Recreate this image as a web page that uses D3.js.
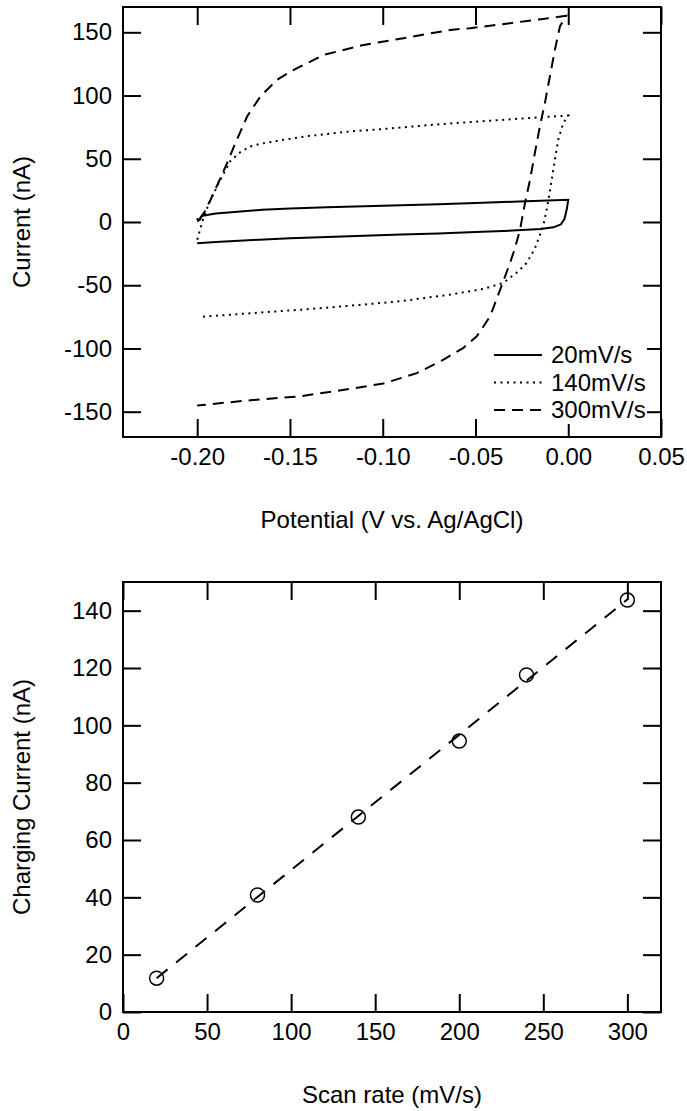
<!DOCTYPE html>
<html>
<head>
<meta charset="utf-8">
<script src="https://cdn.jsdelivr.net/npm/d3@7/dist/d3.min.js"></script>
<style>
  body { margin: 0; background: #fff; }
  svg text { font-family: "Liberation Sans", Arial, sans-serif; fill: #000; }
</style>
</head>
<body>
<div id="chart"></div>
<script>
// ---- data ----

// top panel: cyclic voltammograms, potential (V) vs current (nA)
const cvNames = ["20mV/s", "140mV/s", "300mV/s"];

const cv20x = [-0.2000, -0.1995, -0.1985, -0.1975, -0.1960, -0.1940, -0.1900, -0.1800, -0.1650, -0.1500, -0.1300, -0.1100, -0.0900, -0.0700, -0.0500, -0.0300, -0.0150, 0.0000,
               -0.0008, -0.0020, -0.0040, -0.0080, -0.0150, -0.0300, -0.0500, -0.0700, -0.0900, -0.1100, -0.1300, -0.1500, -0.1700, -0.1900, -0.2000];
const cv20y = [3.0, 1.0, 2.0, 5.0, 5.2, 5.8, 6.8, 8.0, 9.6, 10.6, 11.6, 12.4, 13.2, 14.1, 15.0, 16.0, 16.8, 17.5,
               10.0, 2.5, -2.0, -4.2, -5.5, -6.8, -8.0, -9.0, -9.8, -10.8, -11.8, -12.8, -14.2, -15.8, -16.8];

const cv140x = [-0.2000, -0.1964, -0.1928, -0.1875, -0.1820, -0.1767, -0.1713, -0.1660, -0.1534, -0.1400, -0.1175, -0.1000, -0.0800, -0.0600, -0.0400, -0.0220, 0.0000,
                -0.0027, -0.0054, -0.0072, -0.0095, -0.0113, -0.0135, -0.0180, -0.0224, -0.0269, -0.0350, -0.0457, -0.0636, -0.0906, -0.1200, -0.1440, -0.1700, -0.1980];
const cv140y = [-14.0, 4.4, 17.6, 33.4, 48.5, 55.3, 59.7, 61.8, 65.0, 68.0, 71.6, 73.5, 76.0, 78.3, 80.3, 82.1, 84.2,
                78.2, 65.0, 49.2, 28.0, 12.3, -3.5, -21.0, -32.4, -39.0, -48.2, -52.9, -57.4, -62.7, -66.5, -69.3, -72.0, -75.0];

const cv300x = [-0.1990, -0.1960, -0.1928, -0.1880, -0.1839, -0.1794, -0.1731, -0.1660, -0.1570, -0.1480, -0.1319, -0.1103, -0.0888, -0.0636, -0.0529, -0.0314, -0.0135, -0.0012,
                -0.0045, -0.0072, -0.0099, -0.0126, -0.0153, -0.0180, -0.0206, -0.0233, -0.0260, -0.0290, -0.0314, -0.0367, -0.0421, -0.0493, -0.0565, -0.0672, -0.0816, -0.0996, -0.1175, -0.1444, -0.1713, -0.2000];
const cv300y = [1.8, 8.0, 17.6, 33.0, 46.6, 62.4, 83.4, 99.2, 112.4, 120.3, 132.1, 140.0, 145.3, 151.9, 153.2, 157.2, 160.6, 163.0,
                154.5, 136.1, 115.0, 94.0, 75.5, 54.5, 33.4, 15.0, -6.1, -22.0, -32.4, -53.5, -74.6, -90.4, -99.5, -108.8, -119.5, -127.7, -131.9, -137.8, -140.9, -145.1];

const cvXTicks = [-0.20, -0.15, -0.10, -0.05, 0.00, 0.05];
const cvXTickLabels = ["-0.20", "-0.15", "-0.10", "-0.05", "0.00", "0.05"];
const cvYTicks = [-150, -100, -50, 0, 50, 100, 150];
const cvYTickLabels = ["-150", "-100", "-50", "0", "50", "100", "150"];

// bottom panel: charging current vs scan rate
const scanRates = [20, 80, 140, 200, 240, 300];
const chargingCurrent = [11.8, 40.8, 68.0, 94.5, 117.6, 143.7];
const fitRates = [20, 300];
const fitCurrent = [11.8, 143.9];

const rateTicks = [0, 50, 100, 150, 200, 250, 300];
const rateTickLabels = ["0", "50", "100", "150", "200", "250", "300"];
const currentTicks = [0, 20, 40, 60, 80, 100, 120, 140];
const currentTickLabels = ["0", "20", "40", "60", "80", "100", "120", "140"];


// ---- drawing ----
const width = 687, height = 1111;
const fontSize = 24;
const tickLen = 18;

const svg = d3.select("#chart")
    .append("svg")
    .attr("width", width)
    .attr("height", height);

// draws the box, inward ticks on all four sides, and labels
function drawFrame(x, y, xTicks, xLabels, yTicks, yLabels, xTitle, yTitle) {
    const [x0, x1] = x.range();
    const [y0, y1] = y.range();   // y0 = bottom, y1 = top
    const g = svg.append("g");

    const styleAxis = sel => {
        sel.select(".domain").remove();
        sel.selectAll(".tick line").attr("stroke", "#000").attr("stroke-width", 2);
        sel.selectAll(".tick text").style("font-size", fontSize + "px").attr("fill", "#000");
    };

    g.append("g")
        .attr("transform", `translate(0,${y0})`)
        .call(d3.axisBottom(x).tickValues(xTicks).tickFormat((d, i) => xLabels[i]).tickSize(-tickLen).tickPadding(11))
        .call(styleAxis);
    g.append("g")
        .attr("transform", `translate(0,${y1})`)
        .call(d3.axisTop(x).tickValues(xTicks).tickFormat("").tickSize(-tickLen))
        .call(styleAxis);
    g.append("g")
        .attr("transform", `translate(${x0},0)`)
        .call(d3.axisLeft(y).tickValues(yTicks).tickFormat((d, i) => yLabels[i]).tickSize(-tickLen).tickPadding(11))
        .call(styleAxis);
    g.append("g")
        .attr("transform", `translate(${x1},0)`)
        .call(d3.axisRight(y).tickValues(yTicks).tickFormat("").tickSize(-tickLen))
        .call(styleAxis);

    g.append("rect")
        .attr("x", x0).attr("y", y1)
        .attr("width", x1 - x0).attr("height", y0 - y1)
        .attr("fill", "none").attr("stroke", "#000").attr("stroke-width", 2);

    g.append("text")
        .attr("x", (x0 + x1) / 2)
        .attr("y", y0 + 83)
        .attr("dy", "0.35em")
        .attr("text-anchor", "middle")
        .style("font-size", fontSize + "px")
        .text(xTitle);

    g.append("text")
        .attr("transform", `translate(22,${(y0 + y1) / 2}) rotate(-90)`)
        .attr("text-anchor", "middle")
        .attr("dy", "0.35em")
        .style("font-size", fontSize + "px")
        .text(yTitle);
    return g;
}

// ---- top panel ----
const xCv = d3.scaleLinear().domain([-0.24, 0.05]).range([123, 661]);
const yCv = d3.scaleLinear().domain([-170, 170]).range([437, 7]);

const cvStyles = [
    { dash: null },
    { dash: "2,4.5" },
    { dash: "11,7" }
];
const cvData = [
    d3.zip(cv20x, cv20y),
    d3.zip(cv140x, cv140y),
    d3.zip(cv300x, cv300y)
];

const cvLine = d3.line().x(d => xCv(d[0])).y(d => yCv(d[1]));

svg.append("g")
    .selectAll("path")
    .data(cvData)
    .join("path")
    .attr("d", cvLine)
    .attr("fill", "none")
    .attr("stroke", "#000")
    .attr("stroke-width", 2)
    .attr("stroke-dasharray", (d, i) => cvStyles[i].dash);

drawFrame(xCv, yCv, cvXTicks, cvXTickLabels, cvYTicks, cvYTickLabels,
    "Potential (V vs. Ag/AgCl)", "Current (nA)");

// legend with white background
const legend = svg.append("g");
legend.append("rect")
    .attr("x", 488).attr("y", 341)
    .attr("width", 159).attr("height", 83)
    .attr("fill", "#fff");
cvNames.forEach((name, i) => {
    const ly = 355 + i * 27.5;
    legend.append("line")
        .attr("x1", 494).attr("x2", 542)
        .attr("y1", ly).attr("y2", ly)
        .attr("stroke", "#000").attr("stroke-width", 2)
        .attr("stroke-dasharray", cvStyles[i].dash);
    legend.append("text")
        .attr("x", 551).attr("y", ly)
        .attr("dy", "0.35em")
        .style("font-size", fontSize + "px")
        .text(name);
});

// ---- bottom panel ----
const xRate = d3.scaleLinear().domain([0, 320]).range([123, 661]);
const yCur = d3.scaleLinear().domain([0, 150]).range([1012, 582]);

drawFrame(xRate, yCur, rateTicks, rateTickLabels, currentTicks, currentTickLabels,
    "Scan rate (mV/s)", "Charging Current (nA)");

svg.append("path")
    .datum(d3.zip(fitRates, fitCurrent))
    .attr("d", d3.line().x(d => xRate(d[0])).y(d => yCur(d[1])))
    .attr("fill", "none")
    .attr("stroke", "#000")
    .attr("stroke-width", 2)
    .attr("stroke-dasharray", "14,11");

svg.append("g")
    .selectAll("circle")
    .data(d3.zip(scanRates, chargingCurrent))
    .join("circle")
    .attr("cx", d => xRate(d[0]))
    .attr("cy", d => yCur(d[1]))
    .attr("r", 7)
    .attr("fill", "none")
    .attr("stroke", "#000")
    .attr("stroke-width", 1.5);
</script>
</body>
</html>
